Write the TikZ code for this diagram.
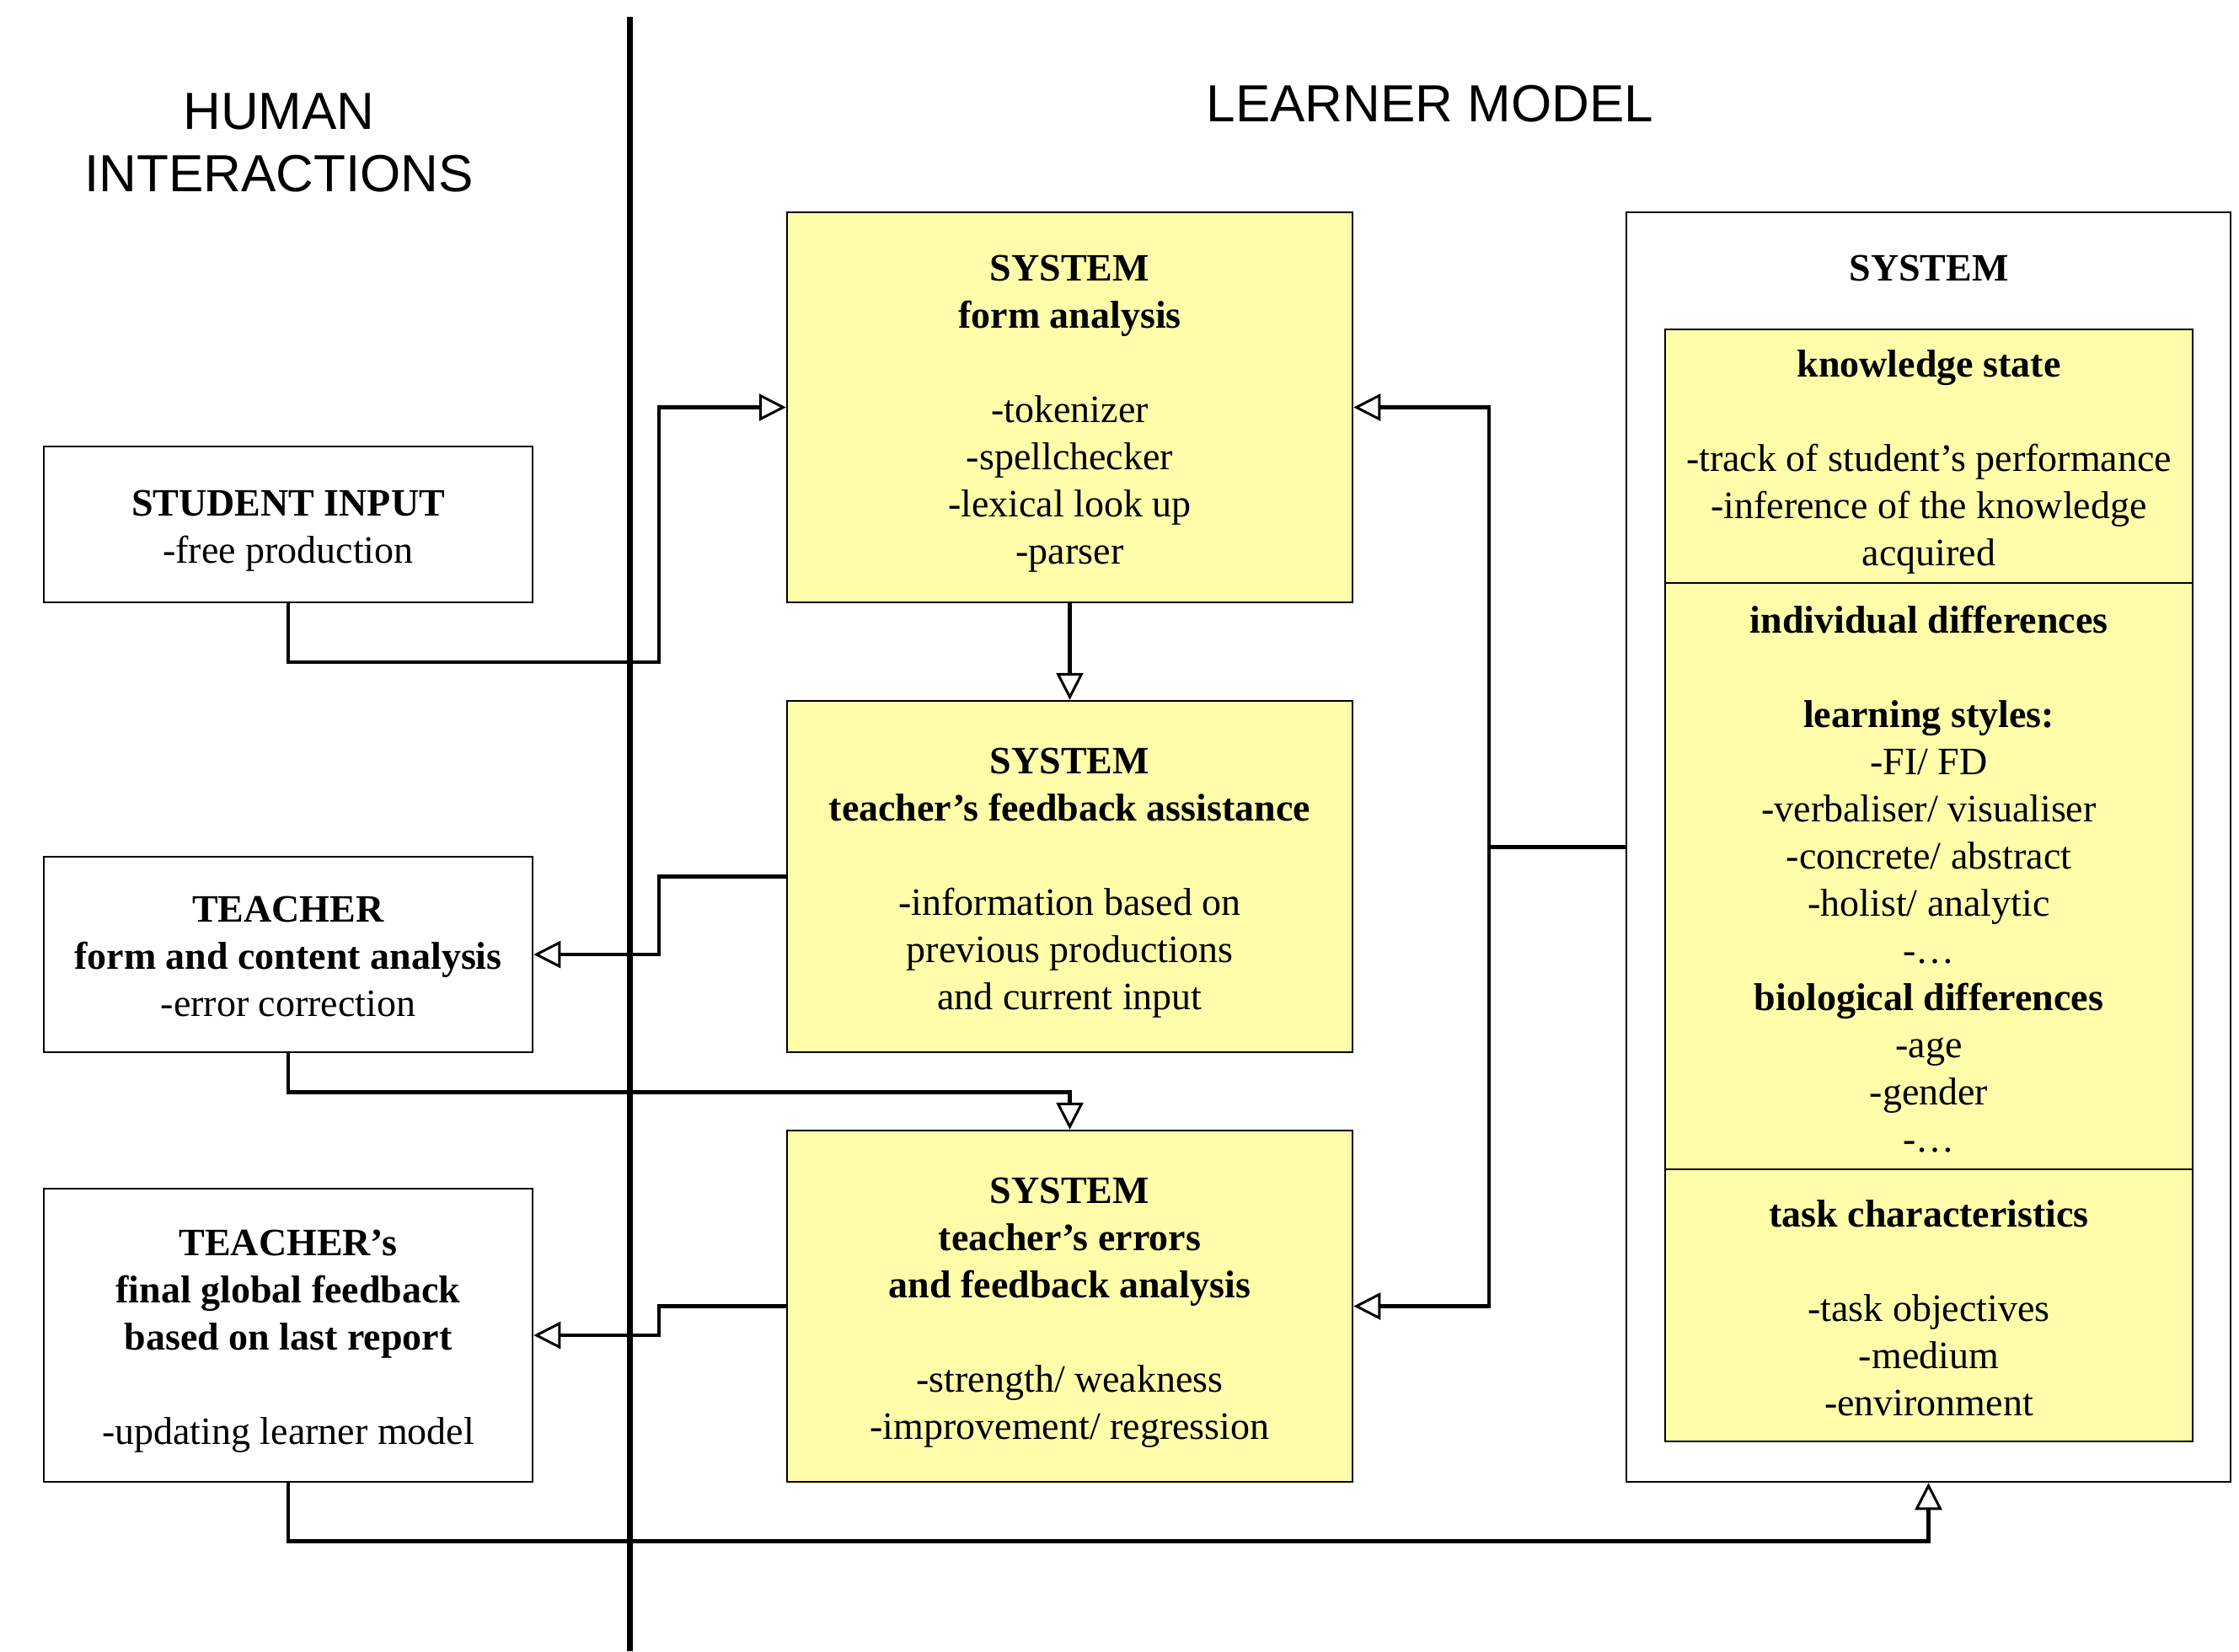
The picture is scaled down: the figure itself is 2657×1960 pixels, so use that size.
\documentclass[tikz,border=0pt]{standalone}
\usepackage{fontspec}
\setmainfont{Liberation Serif}
\newfontfamily\arialfont{Liberation Sans}
\usetikzlibrary{arrows.meta}
\definecolor{boxyellow}{HTML}{FFFCAA}
\newcommand\firstlineraise[1]{\rule{0pt}{#1}}
\begin{document}
\begin{tikzpicture}[x=1pt,y=-1pt,
  txt/.style={font=\fontsize{46}{56}\selectfont, align=center, inner sep=0pt},
  wbox/.style={txt, draw, line width=2.5pt, fill=white},
  ybox/.style={txt, draw, line width=2.5pt, fill=boxyellow},
  head/.style={font=\arialfont\fontsize{62}{74}\selectfont, inner sep=0pt, anchor=base},
  conn/.style={line width=4.5pt, line join=miter},
  arr/.style={conn, -{Triangle[length=32pt,width=32pt,line width=3pt,fill=white]}},
  divider/.style={line width=7pt}
]
\useasboundingbox (0,0) rectangle (2657,1960);

% divider
\coordinate (dtop) at (747,20);
\coordinate (dbot) at (747,1960);
\draw[divider] (dtop) -- (dbot);

% headings
\node[head] (h1) at (331,153) {HUMAN};
\node[head] (h2) at (331,227) {INTERACTIONS};
\node[head] (h3) at (1697,144) {LEARNER MODEL};

% left boxes
\node[wbox, minimum width=580pt, minimum height=185pt] (si) at (342,622.5)
  {\firstlineraise{45pt}\textbf{STUDENT INPUT}\\ -free production};
\node[wbox, minimum width=580pt, minimum height=232pt] (teacher) at (342,1133)
  {\firstlineraise{35pt}\textbf{TEACHER}\\ \textbf{form and content analysis}\\ -error correction};
\node[wbox, minimum width=580pt, minimum height=348pt] (final) at (342,1585)
  {\firstlineraise{45pt}\textbf{TEACHER’s}\\ \textbf{final global feedback}\\ \textbf{based on last report}\\[56pt] -updating learner model};

% middle boxes
\node[ybox, minimum width=671pt, minimum height=463pt] (form) at (1269.5,483.5)
  {\firstlineraise{45pt}\textbf{SYSTEM}\\ \textbf{form analysis}\\[56pt] -tokenizer\\ -spellchecker\\ -lexical look up\\ -parser};
\node[ybox, minimum width=671pt, minimum height=417pt] (fb) at (1269.5,1040.5)
  {\firstlineraise{45pt}\textbf{SYSTEM}\\ \textbf{teacher’s feedback assistance}\\[56pt] -information based on\\ previous productions\\ and current input};
\node[ybox, minimum width=671pt, minimum height=417pt] (err) at (1269.5,1550.5)
  {\firstlineraise{45pt}\textbf{SYSTEM}\\ \textbf{teacher’s errors}\\ \textbf{and feedback analysis}\\[56pt] -strength/ weakness\\ -improvement/ regression};

% right system box
\node[wbox, minimum width=717pt, minimum height=1507pt] (sys) at (2288.5,1005.5) {};
\node[txt] (systitle) at (2289,318) {\textbf{SYSTEM}};
\node[ybox, minimum width=626pt, minimum height=301pt] (ks) at (2289,541.5)
  {\firstlineraise{46pt}\textbf{knowledge state}\\[56pt] -track of student’s performance\\ -inference of the knowledge\\ acquired};
\node[ybox, minimum width=626pt, minimum height=696pt] (id) at (2289,1040)
  {\firstlineraise{39pt}\textbf{individual differences}\\[56pt] \textbf{learning styles:}\\ -FI/ FD\\ -verbaliser/ visualiser\\ -concrete/ abstract\\ -holist/ analytic\\ -…\\ \textbf{biological differences}\\ -age\\ -gender\\ -…};
\node[ybox, minimum width=626pt, minimum height=323pt] (tc) at (2289,1549.5)
  {\firstlineraise{39pt}\textbf{task characteristics}\\[56pt] -task objectives\\ -medium\\ -environment};

% connectors
\coordinate (j) at (1767,1005.5);
\draw[arr] (si.south) |- (782,786) |- (form.west);
\draw[arr] (form.south) -- (fb.north);
\draw[arr] (fb.west) -| (782,1100) |- (teacher.east);
\draw[arr] (teacher.south) -- ++(0,46) -| (err.north);
\draw[arr] (err.west) -| (782,1570) |- (final.east);
\draw[arr] (final.south) -- ++(0,69) -| (sys.south);
\draw[conn] (sys.west) -- (j);
\draw[arr] (j) |- (form.east);
\draw[arr] (j) |- (err.east);
\end{tikzpicture}
\end{document}
